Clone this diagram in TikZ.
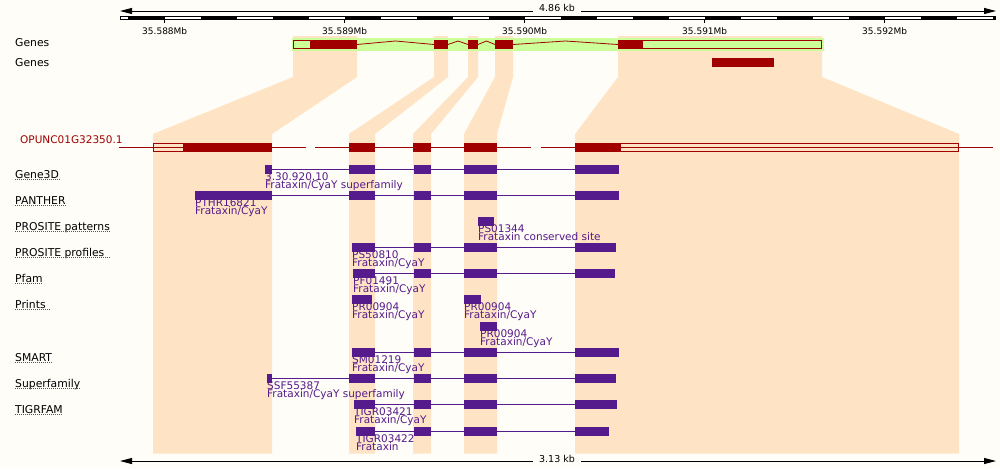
\documentclass[tikz,border=0pt]{standalone}
\usepackage{fontspec}
\setmainfont{DejaVu Sans}
\usetikzlibrary{arrows.meta}

\definecolor{bgcream}{RGB}{255,253,247}
\definecolor{exonred}{RGB}{160,0,0}
\definecolor{hitpurple}{RGB}{85,26,139}
\definecolor{peach}{RGB}{254,228,196}
\definecolor{genegreen}{RGB}{204,255,153}
\definecolor{linkblue}{RGB}{51,85,170}

\tikzset{
  tracklabel/.style={anchor=base west,inner sep=0pt,font=\fontsize{10.8}{12}\selectfont},
  hitlabel/.style={anchor=base west,inner sep=0pt,text=hitpurple,font=\fontsize{10.5}{11}\selectfont},
  kblabel/.style={anchor=base,inner xsep=6.3pt,inner ysep=0pt,font=\fontsize{9.5}{10}\selectfont},
  mblabel/.style={anchor=base,inner sep=0pt,font=\fontsize{9}{10}\selectfont},
  hitbox/.style={fill=hitpurple},
  hitline/.style={draw=hitpurple,line width=1pt},
  exonbox/.style={fill=exonred},
  utrbox/.style={draw=exonred,line width=1pt},
  dotline/.style={draw=linkblue,line width=0.8pt,dash pattern=on 1pt off 1pt},
  scalearrow/.style={line width=1pt,-{Triangle[length=12pt,width=6pt]}},
}

\begin{document}
\begin{tikzpicture}[x=1pt,y=-1pt]
  \useasboundingbox (0,0) rectangle (1000,469);
  \fill[bgcream] (0,0) rectangle (1000,469);

  % top scale: arrow and ruler
  \node[kblabel] (topkb) at (557,11.7) {4.86 kb};
  \coordinate (topleft) at (120,11);
  \coordinate (topright) at (996,11);
  \draw[scalearrow] (topkb.west |- topleft) -- (topleft);
  \draw[scalearrow] (topkb.east |- topright) -- (topright);

  \fill (120,15.5) rectangle (996,19.5);
  \fill[white] (121,16.5) rectangle (128,18.5);
  \foreach \x in {165,237,...,957}
    \fill[white] (\x,16.5) rectangle (\x+36,18.5);
  \foreach \x/\mb in {164.7/35.588, 344.7/35.589, 524.7/35.590, 704.7/35.591, 884.7/35.592} {
    \draw[line width=1pt] (\x,19.5) -- (\x,22.5);
    \node[mblabel] (mb\mb) at (\x,34.3) {\mb Mb};
  }

  % peach links from gene exons down through the tracks
  \foreach \ga/\gb/\ta/\tb in {293/357/153/272, 434/448/349/375, 468/478/413/431, 495/513/464/497, 618/822/575/959}
    \fill[peach] (\ga,36) -- (\gb,36) -- (\gb,77) -- (\tb,134) -- (\tb,453.7)
      -- (\ta,453.7) -- (\ta,134) -- (\ga,77) -- cycle;

  % genes
  \node[tracklabel] (genes1) at (15,46.6) {Genes};
  \node[tracklabel] (genes2) at (15,66.6) {Genes};
  \fill[genegreen] (292,37.5) rectangle (824,50.5);
  \draw[exonred,line width=0.8pt] (357,44.5) -- (395.5,41) -- (434,44.5)
    (448,44.5) -- (458,41) -- (468,44.5)
    (478,44.5) -- (486.5,41) -- (495,44.5)
    (513,44.5) -- (565.5,41) -- (618,44.5);
  \draw[utrbox,fill=genegreen] (293.5,40.5) rectangle (310,48);
  \draw[utrbox,fill=genegreen] (642,40.5) rectangle (821.5,48);
  \foreach \a/\b in {310/357, 434/448, 468/478, 495/513, 618/642}
    \fill[exonbox] (\a,40) rectangle (\b,48.5);
  \fill[exonbox] (712,58.3) rectangle (774,66.7);

  % transcript
  \node[tracklabel,text=exonred,font=\fontsize{10.5}{11}\selectfont] (transcript) at (20,143.3) {OPUNC01G32350.1};
  \draw[exonred,line width=1pt] (119,147) -- (306,147) (315,147) -- (531,147) (541,147) -- (993,147);
  \draw[utrbox] (153.5,143.5) rectangle (183,151.2);
  \draw[utrbox] (620,143.5) rectangle (958,151.2);
  \foreach \a/\b in {183/272, 349/375, 413/431, 464/497, 575/620}
    \fill[exonbox] (\a,143) rectangle (\b,151.7);

  % track labels
  \foreach \name/\txt/\y/\ext in {gene3d/Gene3D/178/0, panther/PANTHER/204/0,
      prositepat/PROSITE patterns/230/0, prositeprof/PROSITE profiles/256/5,
      pfam/Pfam/282/0, prints/Prints/308/5, smart/SMART/361/0,
      superfam/Superfamily/387/0, tigrfam/TIGRFAM/413/0} {
    \node[tracklabel] (\name) at (15,\y) {\txt};
    \draw[dotline] ([yshift=-1.6pt]\name.base west) -- ([yshift=-1.6pt,xshift=\ext pt]\name.base east);
  }

  % domain hits
  \foreach \y/\from/\to in {169.5/265/619, 195.5/195/619, 247.5/352/616, 273.5/353/615,
      352.5/352/619, 378.5/267/616, 404.5/354/617, 431.5/356/609}
    \draw[hitline] (\from,\y) -- (\to,\y);

  \foreach \x/\y/\id/\desc [count=\i] in {
      265/169.5/3.30.920.10/{Frataxin/CyaY superfamily},
      195/195.5/PTHR16821/{Frataxin/CyaY},
      478/221.5/PS01344/{Frataxin conserved site},
      352/247.5/PS50810/{Frataxin/CyaY},
      353/273.5/PF01491/{Frataxin/CyaY},
      352/299.5/PR00904/{Frataxin/CyaY},
      464/299.5/PR00904/{Frataxin/CyaY},
      480/326.5/PR00904/{Frataxin/CyaY},
      352/352.5/SM01219/{Frataxin/CyaY},
      267/378.5/SSF55387/{Frataxin/CyaY superfamily},
      354/404.5/TIGR03421/{Frataxin/CyaY},
      356/431.5/TIGR03422/Frataxin} {
    \node[hitlabel] (hitid\i) at (\x,\y+10.8) {\id};
    \node[hitlabel] (hitdesc\i) at (\x,\y+19.4) {\desc};
  }

  \foreach \y/\boxes in {
      169.5/{265/272,349/375,414/431,464/497,575/619},
      195.5/{195/272,349/375,414/431,464/497,575/619},
      221.5/{478/494},
      247.5/{352/375,414/431,464/497,575/616},
      273.5/{353/375,414/431,464/497,575/615},
      299.5/{352/372,464/481},
      326.5/{480/497},
      352.5/{352/375,414/431,464/497,575/619},
      378.5/{267/272,349/375,414/431,464/497,575/616},
      404.5/{354/375,414/431,464/497,575/617},
      431.5/{356/375,414/431,464/497,575/609}}
    \foreach \a/\b in \boxes
      \fill[hitbox] (\a,\y-4.35) rectangle (\b,\y+4.35);

  % bottom scale
  \node[kblabel] (botkb) at (557,462.5) {3.13 kb};
  \coordinate (botleft) at (120,461);
  \coordinate (botright) at (996,461);
  \draw[scalearrow] (botkb.west |- botleft) -- (botleft);
  \draw[scalearrow] (botkb.east |- botright) -- (botright);
\end{tikzpicture}
\end{document}
